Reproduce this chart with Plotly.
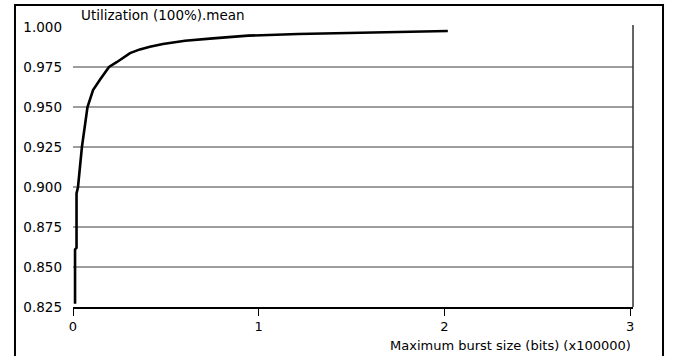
import plotly.graph_objects as go

# Data (x in units of 100000 bits)
burst_size = [0.011, 0.011, 0.019, 0.019, 0.027, 0.048, 0.078, 0.108, 0.145, 0.194,
              0.235, 0.307, 0.360, 0.414, 0.484, 0.558, 0.603, 0.753, 0.942, 1.211,
              1.372, 1.582, 1.932, 2.018]
utilization = [0.827, 0.861, 0.862, 0.896, 0.900, 0.925, 0.950, 0.9606, 0.967, 0.975,
               0.978, 0.9837, 0.986, 0.9877, 0.9894, 0.9905, 0.9914, 0.9929, 0.9946, 0.9956,
               0.9960, 0.9967, 0.9975, 0.9975]

y_ticks = [0.825, 0.850, 0.875, 0.900, 0.925, 0.950, 0.975, 1.000]
y_tick_text = ["0.825", "0.850", "0.875", "0.900", "0.925", "0.950", "0.975", "1.000"]
grid_values = [0.850, 0.875, 0.900, 0.925, 0.950, 0.975]
x_ticks = [0, 1, 2, 3]
x_tick_text = ["0", "1", "2", "3"]

title_text = "Utilization (100%).mean"
x_title_text = "Maximum burst size (bits) (x100000)"

FONT = "DejaVu Sans"
fig = go.Figure()
fig.add_trace(go.Scatter(x=burst_size, y=utilization, mode="lines",
                         line=dict(color="black", width=2.6), hoverinfo="skip"))

shapes = []
for g in grid_values:
    shapes.append(dict(type="line", xref="paper", yref="y", x0=0, x1=1, y0=g, y1=g,
                       line=dict(color="#3c3c3c", width=1), layer="below"))
# right vertical axis line
shapes.append(dict(type="line", xref="paper", yref="paper", x0=1, x1=1, y0=0, y1=1,
                   line=dict(color="#333333", width=1.5)))
# outer frame
shapes.append(dict(type="rect", xref="paper", yref="paper",
                   x0=-0.1036, x1=1.0536, y0=-0.2, y1=1.071,
                   line=dict(color="black", width=2), fillcolor="rgba(0,0,0,0)"))

fig.update_layout(
    width=680, height=356,
    margin=dict(l=73, r=47, t=25, b=49),
    paper_bgcolor="white", plot_bgcolor="white",
    showlegend=False,
    font=dict(family=FONT, size=13, color="black"),
    shapes=shapes,
    xaxis=dict(range=[0, 3.015], tickvals=x_ticks, ticktext=x_tick_text,
               showgrid=False, zeroline=False, showline=True, linecolor="black",
               linewidth=1.5, ticks="outside", ticklen=7, tickwidth=1.3,
               tickcolor="black", tickfont=dict(family=FONT, size=13)),
    yaxis=dict(range=[0.825, 1.00125], tickvals=y_ticks, ticktext=y_tick_text,
               showgrid=False, zeroline=False, showline=False, ticks="",
               ticklabelstandoff=10, tickfont=dict(family=FONT, size=13.5)),
    annotations=[
        dict(text=title_text, xref="paper", yref="paper", x=0, y=1,
             xanchor="left", yanchor="middle", xshift=6, yshift=10,
             showarrow=False, font=dict(family=FONT, size=13.5)),
        dict(text=x_title_text, xref="paper", yref="paper", x=1, y=0,
             xanchor="right", yanchor="middle", xshift=0, yshift=-38,
             showarrow=False, font=dict(family=FONT, size=13)),
    ],
)

fig.write_html("out.html")
